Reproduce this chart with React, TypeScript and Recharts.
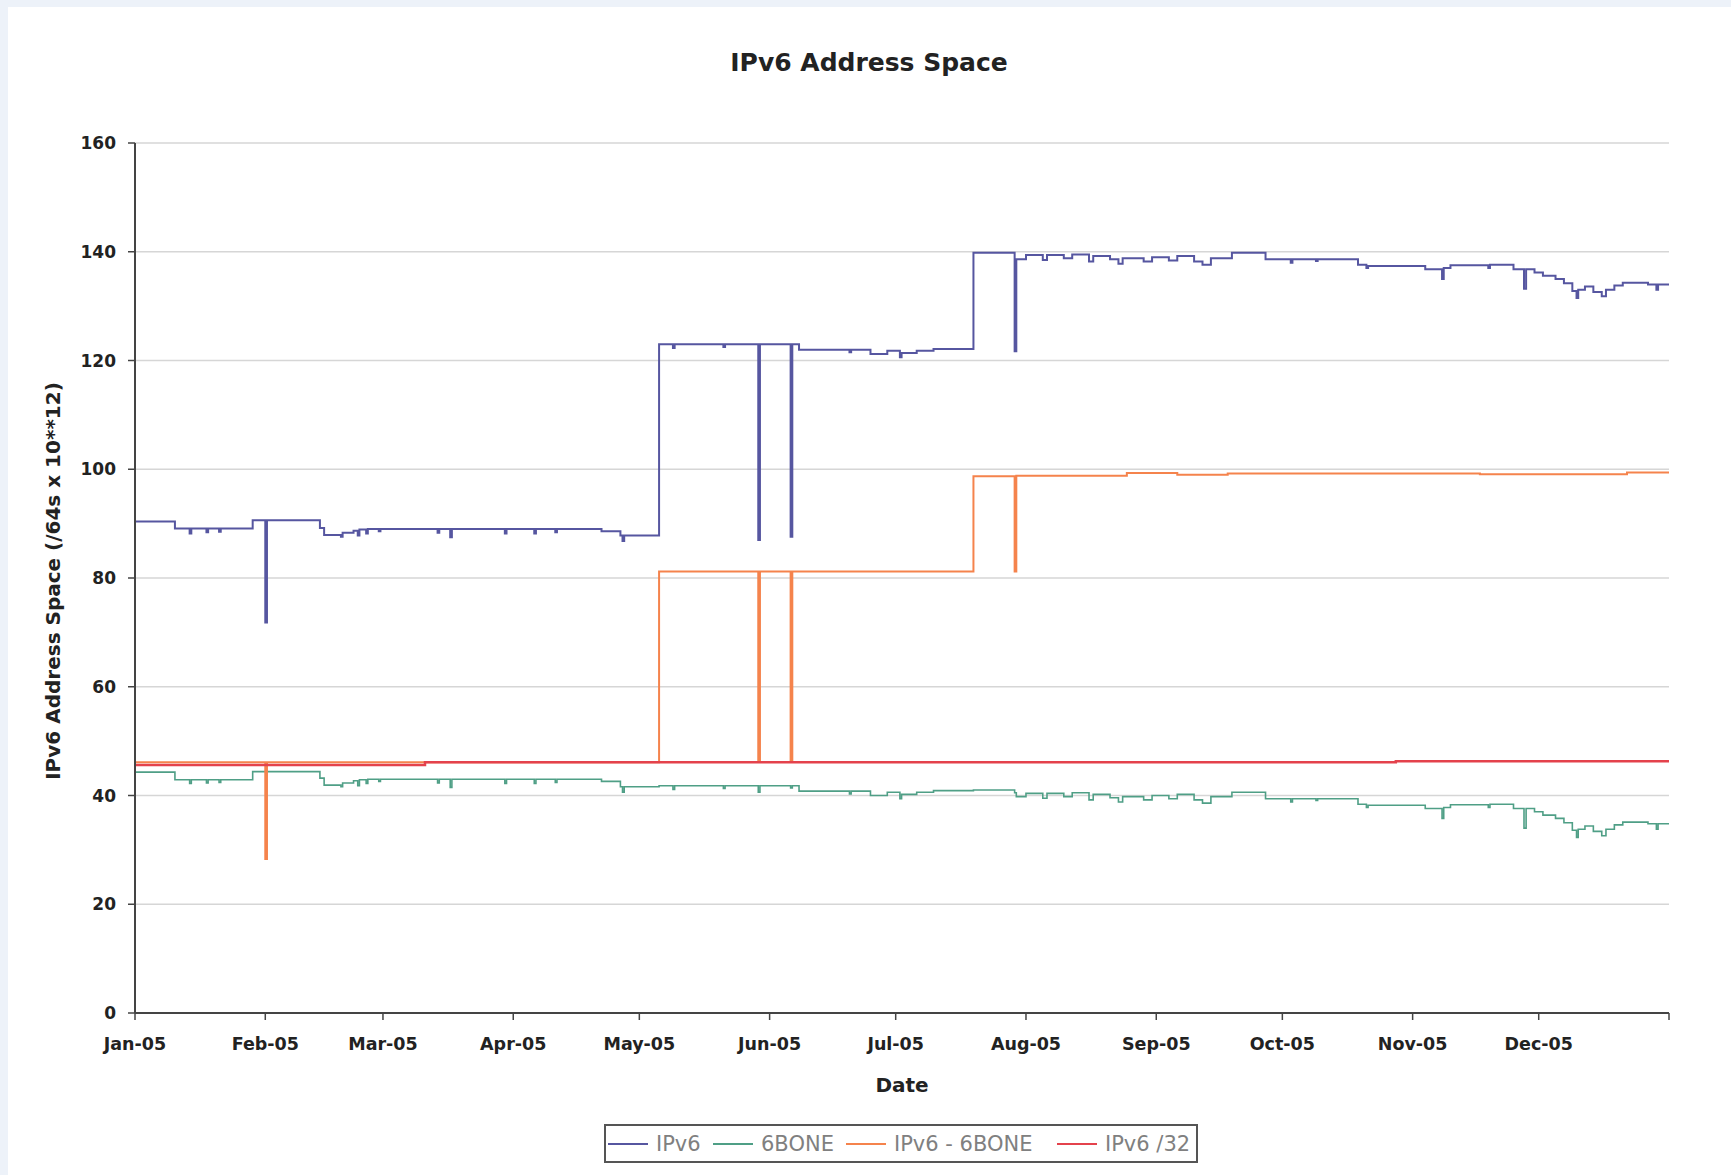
import { LineChart, Line, XAxis, YAxis, CartesianGrid, Legend } from 'recharts';

// day of year 2005 for the first of each month, plus the end of the year
const MONTH_TICKS = [0, 31, 59, 90, 120, 151, 181, 212, 243, 273, 304, 334, 365];
const MONTH_LABELS = ['Jan-05', 'Feb-05', 'Mar-05', 'Apr-05', 'May-05', 'Jun-05', 'Jul-05', 'Aug-05', 'Sep-05', 'Oct-05', 'Nov-05', 'Dec-05', ''];
const Y_TICKS = [0, 20, 40, 60, 80, 100, 120, 140, 160];

const SERIES_NAMES = ['IPv6', '6BONE', 'IPv6 - 6BONE', 'IPv6 /32'];
const SERIES_COLORS = ['#5656a0', '#4f9f86', '#f5834c', '#e4424c'];

// [day, value] change points, values held until the next point
const IPV6 = [
  [0, 90.4], [9.5, 89.1], [13, 88.2], [13.4, 89.1], [17, 88.4], [17.4, 89.1], [20, 88.5], [20.4, 89.1],
  [28, 90.6], [31, 71.8], [31.4, 90.6],
  [44, 89.2], [45, 87.9], [49, 87.6], [49.4, 88.3], [52, 88.7], [53, 87.8], [53.4, 88.9], [55, 88.2], [55.4, 89.0],
  [58, 88.6], [58.4, 89.0], [72, 88.3], [72.4, 89.0], [75, 87.5], [75.4, 89.0], [88, 88.2], [88.4, 89.0],
  [95, 88.2], [95.4, 89.0], [100, 88.4], [100.4, 89.0],
  [111, 88.6], [115.5, 87.8], [116, 86.8], [116.4, 87.8],
  [124.7, 123.0], [128, 122.3], [128.4, 123.0], [140, 122.5], [140.4, 123.0],
  [148.3, 87.0], [148.7, 123.0], [156, 87.6], [156.4, 123.0],
  [158, 122.0], [170, 121.5], [170.4, 122.0], [175, 121.2], [179, 121.8], [182, 120.6], [182.4, 121.4], [186, 121.8], [190, 122.1],
  [199.5, 139.8], [209.3, 121.7], [209.7, 138.6], [212, 139.4], [216, 138.5], [217, 139.4], [221, 138.8], [223, 139.5],
  [227, 138.2], [228, 139.2], [232, 138.6], [234, 137.8], [235, 138.8], [240, 138.2], [242, 139.0], [246, 138.4],
  [248, 139.2], [252, 138.2], [254, 137.6], [256, 138.8],
  [261, 139.8], [269, 138.6], [275, 138.0], [275.4, 138.6], [281, 138.3], [281.4, 138.6],
  [291, 137.6], [293, 137.0], [293.4, 137.4], [307, 136.8], [311, 135.0], [311.4, 137.0], [313, 137.5], [320, 137.5],
  [322, 137.0], [322.4, 137.6],
  [328, 136.8], [330.5, 133.2], [331, 136.8], [333, 136.2], [335, 135.6], [338, 135.0], [340, 134.2], [342, 132.8],
  [343, 131.5], [343.4, 133.0], [345, 133.6], [347, 132.6], [349, 131.8], [350, 133.0], [352, 133.8], [354, 134.3],
  [360, 134.0], [362, 133.0], [362.4, 134.0], [365, 134.0],
];

const SIXBONE = [
  [0, 44.3], [9.5, 42.9], [13, 42.2], [13.4, 42.9], [17, 42.3], [17.4, 42.9], [20, 42.4], [20.4, 42.9],
  [28, 44.4], [44, 43.2], [45, 41.9], [49, 41.6], [49.4, 42.3], [52, 42.7], [53, 41.8], [53.4, 42.9], [55, 42.2], [55.4, 43.0],
  [58, 42.6], [58.4, 43.0], [72, 42.3], [72.4, 43.0], [75, 41.5], [75.4, 43.0], [88, 42.2], [88.4, 43.0],
  [95, 42.2], [95.4, 43.0], [100, 42.4], [100.4, 43.0],
  [111, 42.6], [115.5, 41.6], [116, 40.6], [116.4, 41.6],
  [124.7, 41.8], [128, 41.1], [128.4, 41.8], [140, 41.3], [140.4, 41.8],
  [148.3, 40.6], [148.7, 41.8], [156, 41.4], [156.4, 41.8],
  [158, 40.8], [170, 40.3], [170.4, 40.8], [175, 40.0], [179, 40.6], [182, 39.4], [182.4, 40.2], [186, 40.6], [190, 40.9],
  [199.5, 41.0], [209.3, 40.5], [209.7, 39.8], [212, 40.4], [216, 39.5], [217, 40.4], [221, 39.8], [223, 40.5],
  [227, 39.2], [228, 40.2], [232, 39.6], [234, 38.8], [235, 39.8], [240, 39.2], [242, 40.0], [246, 39.4],
  [248, 40.2], [252, 39.2], [254, 38.6], [256, 39.8],
  [261, 40.6], [269, 39.4], [275, 38.8], [275.4, 39.4], [281, 39.1], [281.4, 39.4],
  [291, 38.4], [293, 37.8], [293.4, 38.2], [307, 37.6], [311, 35.8], [311.4, 37.8], [313, 38.3], [320, 38.3],
  [322, 37.8], [322.4, 38.4],
  [328, 37.6], [330.5, 34.0], [331, 37.6], [333, 37.0], [335, 36.4], [338, 35.8], [340, 35.0], [342, 33.6],
  [343, 32.3], [343.4, 33.8], [345, 34.4], [347, 33.4], [349, 32.6], [350, 33.8], [352, 34.6], [354, 35.1],
  [360, 34.8], [362, 33.8], [362.4, 34.8], [365, 34.8],
];

const IPV6_MINUS_6BONE = [
  [0, 46.1], [31, 28.3], [31.4, 46.1], [124.7, 81.2], [148.3, 46.2], [148.7, 81.2], [156, 46.2], [156.4, 81.2],
  [199.5, 98.7], [209.3, 81.2], [209.7, 98.8], [236, 99.3], [248, 99.0], [260, 99.2], [320, 99.1], [355, 99.4], [365, 99.4],
];

const IPV6_32 = [
  [0, 45.6], [69, 46.1], [300, 46.3], [365, 46.3],
];

const SERIES_POINTS = [IPV6, SIXBONE, IPV6_MINUS_6BONE, IPV6_32];
const SERIES_WIDTHS = [2, 1.6, 2, 2.5];

const toRows = (pts: number[][]) => pts.map(([day, v]) => ({ day, v }));

const FONT = '"DejaVu Sans", sans-serif';

function YLabel(props: any) {
  const vb = props.viewBox ?? { y: 143, height: 870 };
  const cx = 53;
  const cy = vb.y + vb.height / 2 + 3;
  return (
    <text
      x={cx}
      y={cy}
      transform={`rotate(-90, ${cx}, ${cy})`}
      textAnchor="middle"
      dominantBaseline="central"
      style={{ fontFamily: FONT, fontSize: 20, fontWeight: 'bold', fill: '#222' }}
    >
      IPv6 Address Space (/64s x 10**12)
    </text>
  );
}

// legend slot widths / gaps (px) to match the boxed legend of the original
const LEGEND_TEXT_W = [47, 64, 149, 87];
const LEGEND_GAP = [10, 21, 14, 0];

function LegendBox() {
  return (
    <div
      style={{
        border: '2px solid #555',
        height: 39,
        boxSizing: 'border-box',
        display: 'flex',
        alignItems: 'center',
        padding: '0 2px',
        fontFamily: FONT,
        fontSize: 21,
        color: '#808080',
        whiteSpace: 'nowrap',
      }}
    >
      {SERIES_NAMES.map((name, i) => (
        <span key={name} style={{ display: 'flex', alignItems: 'center', marginRight: LEGEND_GAP[i] }}>
          <span style={{ width: 40, borderTop: `2px solid ${SERIES_COLORS[i]}`, marginRight: 8 }} />
          <span style={{ width: LEGEND_TEXT_W[i], textAlign: 'justify', display: 'inline-block' }}>{name}</span>
        </span>
      ))}
    </div>
  );
}

export default function App() {
  return (
    <div style={{ position: 'absolute', left: 0, top: 0, width: 1731, height: 1175, background: '#edf2f9' }}>
      <div style={{ position: 'absolute', left: 8, top: 7, width: 1723, height: 1168, background: '#fff' }} />
      <div style={{ position: 'absolute', left: 0, top: 0 }}>
        <LineChart width={1731} height={1175} margin={{ top: 143, right: 62, bottom: 72, left: 0 }}>
          <CartesianGrid vertical={false} stroke="#d6d6d6" strokeWidth={1.5} />
          <XAxis
            type="number"
            dataKey="day"
            domain={[0, 365]}
            ticks={MONTH_TICKS}
            interval={0}
            tickFormatter={(v: number) => MONTH_LABELS[MONTH_TICKS.indexOf(v)] ?? ''}
            height={90}
            tickSize={7}
            tickMargin={18}
            axisLine={{ stroke: '#444', strokeWidth: 2 }}
            tickLine={{ stroke: '#444', strokeWidth: 1.5 }}
            tick={{ fontFamily: FONT, fontSize: 17.5, fontWeight: 'bold', fill: '#222' }}
            label={{ value: 'Date', position: 'insideBottom', offset: 11, style: { fontFamily: FONT, fontSize: 20, fontWeight: 'bold', fill: '#222' } }}
          />
          <YAxis
            type="number"
            domain={[0, 160]}
            ticks={Y_TICKS}
            interval={0}
            width={135}
            tickSize={7}
            tickMargin={12}
            axisLine={{ stroke: '#444', strokeWidth: 2 }}
            tickLine={{ stroke: '#444', strokeWidth: 1.5 }}
            tick={{ fontFamily: FONT, fontSize: 17, fontWeight: 'bold', fill: '#222' }}
            label={<YLabel />}
          />
          {SERIES_POINTS.map((pts, i) => (
            <Line
              key={SERIES_NAMES[i]}
              name={SERIES_NAMES[i]}
              data={toRows(pts)}
              dataKey="v"
              type="stepAfter"
              stroke={SERIES_COLORS[i]}
              strokeWidth={SERIES_WIDTHS[i]}
              dot={false}
              activeDot={false}
              isAnimationActive={false}
            />
          ))}
          <Legend
            verticalAlign="middle"
            layout="horizontal"
            content={<LegendBox />}
            wrapperStyle={{ left: 604, top: 1124, width: 594, height: 39 }}
          />
        </LineChart>
      </div>
      <div
        style={{
          position: 'absolute',
          left: 0,
          top: 48,
          width: 1738,
          textAlign: 'center',
          fontFamily: FONT,
          fontSize: 25,
          fontWeight: 'bold',
          color: '#222',
        }}
      >
        IPv6 Address Space
      </div>
    </div>
  );
}
